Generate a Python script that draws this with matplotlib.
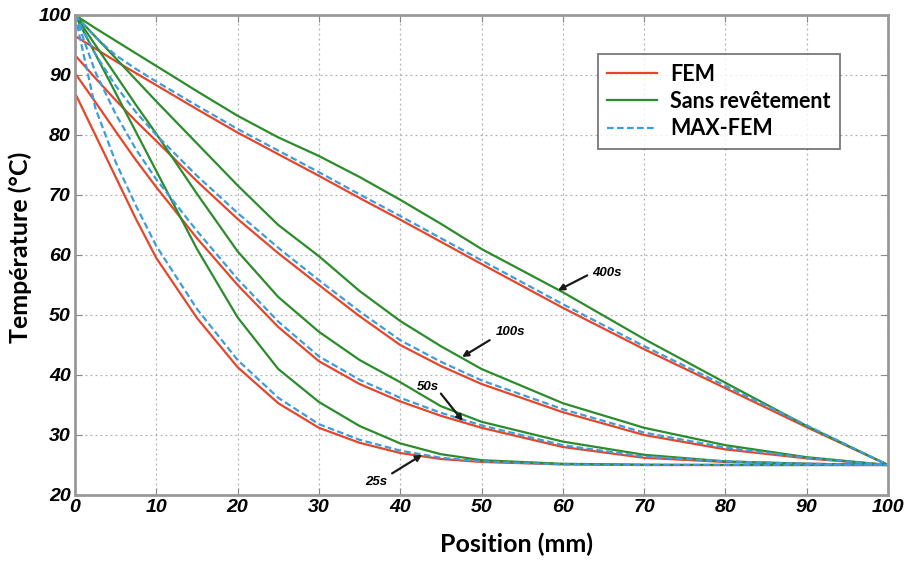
import matplotlib
matplotlib.use('Agg')
import matplotlib.pyplot as plt

# positions (mm)
x = [0, 2.5, 5, 7.5, 10, 15, 20, 25, 30, 35, 40, 45, 50, 60, 70, 80, 90, 100]

# FEM (rouge) : le point 100 °C en x=0 puis la valeur juste après
fem_400 = [96.5, 94.4, 92.3, 90.3, 88.3, 84.3, 80.4, 76.8, 73.2, 69.5, 65.9, 62.2, 58.5, 51.2, 44.3, 37.8, 31.3, 25]
fem_100 = [93.3, 89.5, 85.8, 82.3, 79.0, 72.3, 66.0, 60.3, 55.0, 49.8, 45.0, 41.5, 38.5, 33.8, 30.0, 27.6, 26.1, 25]
fem_50 = [90.3, 85.5, 80.6, 75.8, 71.3, 62.8, 55.0, 48.0, 42.3, 38.5, 35.6, 33.2, 31.2, 28.0, 26.2, 25.5, 25.2, 25]
fem_25 = [87.0, 80.0, 73.0, 66.0, 59.5, 49.5, 41.3, 35.3, 31.2, 28.7, 27.0, 26.0, 25.5, 25.1, 25.0, 25.0, 25.0, 25]

# Sans revêtement (vert)
nu_400 = [100, 97.8, 95.7, 93.6, 91.5, 87.3, 83.2, 79.6, 76.5, 73.0, 69.2, 65.2, 61.0, 53.8, 46.0, 38.7, 31.5, 25]
nu_100 = [100, 96.4, 92.8, 89.2, 85.6, 78.6, 71.6, 65.0, 59.8, 54.0, 49.0, 44.8, 41.0, 35.3, 31.2, 28.3, 26.3, 25]
nu_50 = [100, 95.0, 90.0, 85.0, 80.2, 70.2, 60.6, 53.0, 47.2, 42.5, 38.8, 34.8, 32.2, 28.9, 26.7, 25.6, 25.2, 25]
nu_25 = [100, 93.5, 87.0, 80.5, 74.0, 61.0, 49.6, 41.0, 35.5, 31.5, 28.6, 26.8, 25.8, 25.2, 25.05, 25.0, 25.0, 25]

# MAX-FEM (bleu)
max_400 = [100, 96.3, 93.3, 91.0, 88.9, 84.9, 81.0, 77.4, 73.8, 70.1, 66.5, 62.8, 59.1, 51.8, 44.8, 38.2, 31.6, 25]
max_100 = [100, 93.5, 88.2, 83.8, 80.0, 73.2, 67.0, 61.2, 55.8, 50.6, 45.8, 42.2, 39.1, 34.3, 30.4, 27.9, 26.2, 25]
max_50 = [100, 90.5, 83.5, 77.6, 72.6, 64.0, 56.0, 48.9, 43.1, 39.2, 36.2, 33.7, 31.6, 28.3, 26.4, 25.6, 25.2, 25]
max_25 = [100, 84.5, 75.5, 68.2, 61.5, 51.0, 42.5, 36.2, 31.8, 29.2, 27.4, 26.2, 25.6, 25.1, 25.0, 25.0, 25.0, 25]

# étiquettes des temps : texte, position du texte, départ et pointe de la flèche
temps = ['400s', '100s', '50s', '25s']
txt_xy = [(65.4, 57.0), (53.6, 47.2), (43.4, 38.0), (37.0, 22.2)]
depart_xy = [(63.0, 56.6), (51.0, 45.8), (45.0, 36.9), (39.0, 23.6)]
pointe_xy = [(59.4, 54.1), (47.6, 43.0), (47.7, 32.3), (42.7, 26.7)]

rouge = '#e5462a'
vert = '#2b8c2b'
bleu = '#3d9ddc'

fig = plt.figure(figsize=(9.08, 5.63), dpi=100)
ax = fig.add_axes([0.0826, 0.1208, 0.8954, 0.8526])

for k, f in enumerate([fem_400, fem_100, fem_50, fem_25]):
    ax.plot([0] + x, [100] + f, color=rouge, lw=1.6,
            label='FEM' if k == 0 else None)
for k, g in enumerate([nu_400, nu_100, nu_50, nu_25]):
    ax.plot(x, g, color=vert, lw=1.6,
            label='Sans revêtement' if k == 0 else None)
for k, b in enumerate([max_400, max_100, max_50, max_25]):
    ax.plot(x, b, color=bleu, lw=1.6, ls=(0, (3, 1.5)),
            label='MAX-FEM' if k == 0 else None)

leg = ax.legend(loc='upper right', bbox_to_anchor=(0.941, 0.919),
                borderaxespad=0, frameon=True, fancybox=False,
                edgecolor='#555555',
                prop={'family': 'Lato', 'weight': 'bold', 'size': 15.5},
                handlelength=2.3, handletextpad=0.6, borderpad=0.45,
                labelspacing=0.3)
leg.get_frame().set_linewidth(1.3)

for t, p, d, q in zip(temps, txt_xy, depart_xy, pointe_xy):
    ax.text(p[0], p[1], t, ha='center', va='center', fontsize=9.5,
            fontweight='bold', fontstyle='italic', family='Liberation Sans')
    ax.annotate('', xy=q, xytext=d,
                arrowprops=dict(arrowstyle='-|>', color='#1a1a1a', lw=1.6,
                                shrinkA=0, shrinkB=0, mutation_scale=9))

ax.set_xlim(0, 100)
ax.set_ylim(20, 100)
ax.set_xticks(range(0, 101, 10))
ax.set_yticks(range(20, 101, 10))
ax.grid(True, ls=(0, (1.5, 2.5)), color='#b0b0b0', lw=0.9)
ax.tick_params(direction='in', length=5, color='#888888', top=True, right=True,
               labelsize=14, pad=3)
for lab in ax.get_xticklabels() + ax.get_yticklabels():
    lab.set_family('Liberation Sans')
    lab.set_fontweight('bold')
    lab.set_fontstyle('italic')
for s in ax.spines.values():
    s.set_color('#999999')
    s.set_linewidth(2)

fig.text(0.569, 0.013, 'Position (mm)', ha='center', va='bottom',
         family='Lato', fontweight='bold', fontsize=18)
fig.text(0.022, 0.56, 'Température (°C)', ha='center', va='center',
         rotation=90, family='Lato', fontweight='bold', fontsize=18)

fig.savefig('out.png', dpi=100)
